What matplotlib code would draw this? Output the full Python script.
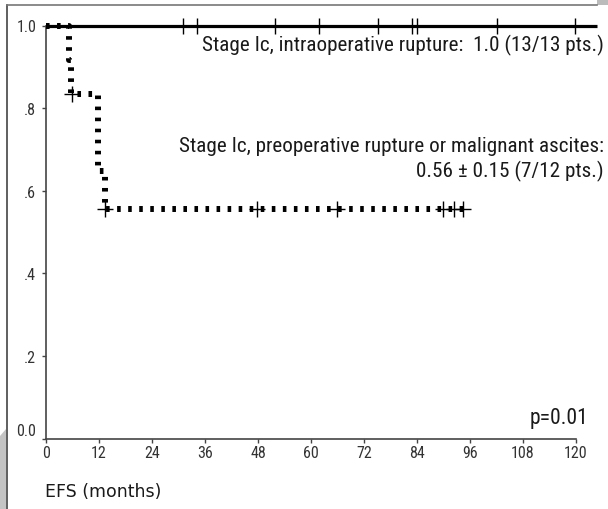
import matplotlib
matplotlib.use("Agg")
import matplotlib.pyplot as plt
import numpy as np
from matplotlib import font_manager as fm
from matplotlib.patches import Polygon, Rectangle
from matplotlib.lines import Line2D

# ---------------- data ----------------
x_ticks = [0, 12, 24, 36, 48, 60, 72, 84, 96, 108, 120]
y_ticks = [0.0, 0.2, 0.4, 0.6, 0.8, 1.0]
y_ticklabels = ["0.0", ".2", ".4", ".6", ".8", "1.0"]

# intraoperative rupture group: no events, censored follow-ups
intra_step_times = [0.0]
intra_step_surv = [1.0]
intra_end = 124.8
intra_censor_times = [31.0, 34.2, 51.8, 61.8, 75.2, 82.9, 84.0, 102.1, 119.8]

# preoperative rupture / malignant ascites group
preop_step_times = [0.0, 5.2, 5.6, 11.8, 13.3]
preop_step_surv = [1.0, 0.917, 0.833, 0.648, 0.556]
preop_end = 94.4
preop_censor_times = [5.9, 13.4, 47.8, 65.9, 89.9, 92.4, 94.4]

label_intra = "Stage Ic, intraoperative rupture:  1.0 (13/13 pts.)"
label_preop1 = "Stage Ic, preoperative rupture or malignant ascites:"
label_preop2 = "0.56 \u00b1 0.15 (7/12 pts.)"
p_text = "p=0.01"
x_label = "EFS (months)"

# ---------------- fonts ----------------
names = {f.name for f in fm.fontManager.ttflist}
cond_family = None
for n in ["Liberation Sans Narrow", "Roboto Condensed", "Open Sans Condensed", "DejaVu Sans Condensed"]:
    if n in names:
        cond_family = n
        break
has_dv_cond = any(f.name == "DejaVu Sans" and f.stretch in ("condensed", 600, "semi-condensed") for f in fm.fontManager.ttflist)
if cond_family is None:
    cond_family = "DejaVu Sans"
cond_kw = dict(family=[cond_family, "DejaVu Sans"])
if cond_family == "DejaVu Sans" and has_dv_cond:
    cond_kw["fontstretch"] = "condensed"


def km_steps(times, surv, end):
    xs, ys = [], []
    for i, (t, s) in enumerate(zip(times, surv)):
        if i > 0:
            xs.append(t)
            ys.append(surv[i - 1])
        xs.append(t)
        ys.append(s)
    xs.append(end)
    ys.append(surv[-1])
    return np.array(xs), np.array(ys)


def surv_at(times, surv, t):
    idx = np.searchsorted(times, t, side="right") - 1
    return np.array(surv)[idx]


W, H = 608, 510
fig = plt.figure(figsize=(W / 100, H / 100), dpi=100)

# page frame decorations
fig.add_artist(Line2D([7 / W, 7 / W], [0, 1 - 6 / H], color="#444444", lw=1.2))
fig.add_artist(Line2D([7 / W, 597 / W], [1 - 6 / H, 1 - 6 / H], color="#777777", lw=1.2))
fig.add_artist(Rectangle((597 / W, 1 - 6 / H), 11 / W, 6 / H, color="#bbbbbb", lw=0))
fig.add_artist(Polygon([[0, 0], [0, 1 - 437 / H], [6 / W, 1 - 430 / H], [6 / W, 0]],
                       closed=True, color="#c4c4c4", lw=0))

# axes placement (pixel measurements of the reference)
x0_px, ppm = 46, 4.417          # x=0 pixel, pixels per month
y0_px, ppu = 439.5, 413.0       # y=0 pixel, pixels per unit
xmax, ymax = 125.0, 1.02
ax_left = x0_px / W
ax_width = xmax * ppm / W
ax_bottom = (H - y0_px) / H
ax_height = ymax * ppu / H
ax = fig.add_axes([ax_left, ax_bottom, ax_width, ax_height])
ax.set_xlim(0, xmax)
ax.set_ylim(0, ymax)

for s in ["top", "right"]:
    ax.spines[s].set_visible(False)
for s in ["left", "bottom"]:
    ax.spines[s].set_color("#444444")
    ax.spines[s].set_linewidth(1.2)
ax.spines["bottom"].set_bounds(0, 120)
ax.spines["left"].set_bounds(0, 1.0)

ax.set_xticks(x_ticks)
ax.set_xticklabels([str(v) for v in x_ticks])
ax.set_yticks(y_ticks)
ax.set_yticklabels(y_ticklabels)
ax.tick_params(axis="both", direction="out", length=3, width=1.0, color="#444444",
               labelcolor="#333333", labelsize=11.5)
ax.tick_params(axis="x", pad=2)
ax.tick_params(axis="y", pad=4)
for lab in ax.get_xticklabels() + ax.get_yticklabels():
    lab.set_family(cond_kw["family"])
    if "fontstretch" in cond_kw:
        lab.set_fontstretch(cond_kw["fontstretch"])
ax.get_yticklabels()[0].set_verticalalignment("bottom")

# intraoperative curve (solid)
xs, ys = km_steps(intra_step_times, intra_step_surv, intra_end)
ax.plot(xs, ys, color="black", lw=2.3, solid_capstyle="butt", clip_on=False, zorder=3)
ax.plot(intra_censor_times, surv_at(intra_step_times, intra_step_surv, intra_censor_times),
        ls="none", marker="|", ms=12, mew=1.0, color="black", clip_on=False, zorder=4)

# preoperative curve (heavy dotted)
xs, ys = km_steps(preop_step_times, preop_step_surv, preop_end)
ax.plot(xs, ys, color="black", lw=4.3, dashes=(0.6, 1.25), dash_capstyle="butt",
        clip_on=False, zorder=5)
ax.plot(preop_censor_times, surv_at(preop_step_times, preop_step_surv, preop_censor_times),
        ls="none", marker="+", ms=12, mew=1.0, color="black", clip_on=False, zorder=6)

def px2data(px, py):
    return (px - x0_px) / ppm, (y0_px - py) / ppu

tk = dict(color="#1a1a1a", **cond_kw)
fs = 15.2
x, y = px2data(604, 45)
ax.text(x, y, label_intra, ha="right", va="center", fontsize=fs, clip_on=False, **tk)
x, y = px2data(604, 147)
ax.text(x, y, label_preop1, ha="right", va="center", fontsize=fs, clip_on=False, **tk)
x, y = px2data(604, 171)
ax.text(x, y, label_preop2, ha="right", va="center", fontsize=fs, clip_on=False, **tk)
x, y = px2data(588, 419)
ax.text(x, y, p_text, ha="right", va="center", fontsize=15.5, clip_on=False, **tk)

fig.text(45 / W, 1 - 492 / H, x_label, ha="left", va="center", fontsize=12.5,
         color="#1a1a1a", family="DejaVu Sans")

fig.savefig("out.png", dpi=100)
